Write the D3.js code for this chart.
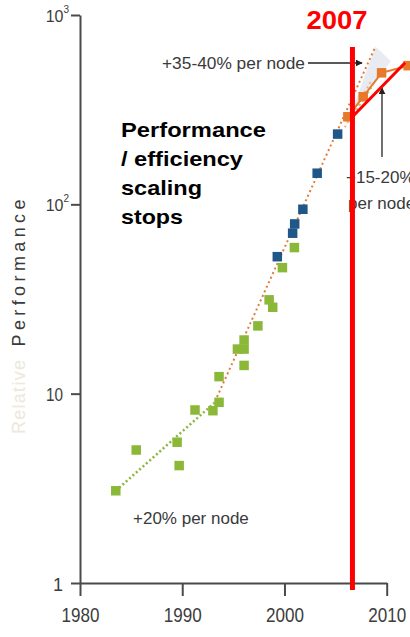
<!DOCTYPE html>
<meta charset="utf-8">
<style>
  body { margin: 0; background: #fff; }
  text { font-family: 'Liberation Sans', Arial, sans-serif; }
</style>
<script src="https://cdn.jsdelivr.net/npm/d3@7"></script>
<body>
<div id="chart"></div>
<script>
// values (year, relative performance)
const greenYears = [1983.5, 1985.5, 1989.5, 1989.7, 1991.25, 1993.0, 1993.6, 1993.6, 1995.4, 1996.05, 1996.05, 1996.05, 1997.4, 1998.5, 1998.85, 1999.8, 2000.97];
const greenVals  = [3.07, 5.04, 5.54, 4.17, 8.2, 8.13, 9.0, 12.3, 17.2, 19.2, 17.2, 14.1, 22.8, 31.3, 28.6, 46.3, 59.1];
const blueYears  = [1999.3, 2000.8, 2001.0, 2001.8, 2003.2, 2005.2];
const blueVals   = [52.9, 70.4, 78.8, 94.2, 146, 235];
const orangeYears = [2006.2, 2007.7, 2009.5, 2012.1];
const orangeVals  = [290, 370, 495, 540];

// trend lines
const greenTrend  = [[1983.5, 3.07], [1993.4, 9.2]];
const greenTrend2 = [[2006.5, 285], [2008.7, 430]];
const orangeTrend = [[1993.4, 9.6], [2008.9, 681]];
const orangeTrend2 = [[2005.9, 255], [2008.5, 450]];
const shade = [[2006.4, 290], [2008.9, 681], [2010.4, 570], [2009.5, 495], [2007.7, 370]];

// the 2007 marker
const markYear = 2006.65;
const markLine = [[2006.65, 290], [2011.8, 560]];

const xTicks = [1980, 1990, 2000, 2010];
const yTicks = [1, 10, 100, 1000];

const width = 410, height = 637;

const svg = d3.select("#chart").append("svg")
  .attr("width", width)
  .attr("height", height);

const x = d3.scaleLinear().domain([1980, 2010]).range([80, 386.7]);
const y = d3.scaleLog().domain([1, 1000]).range([583, 15]);

const line = d3.line().x(d => x(d[0])).y(d => y(d[1]));

// shaded gap between trend and real
svg.append("path")
  .attr("d", line(shade) + "Z")
  .attr("fill", "#e9ebf2");

svg.append("path").attr("d", line(orangeTrend2))
  .attr("fill", "none").attr("stroke", "#efb488").attr("stroke-width", 2).attr("stroke-dasharray", "2,3");
svg.append("path").attr("d", line(orangeTrend))
  .attr("fill", "none").attr("stroke", "#e07b3a").attr("stroke-width", 2).attr("stroke-dasharray", "2,3");
svg.append("path").attr("d", line(greenTrend))
  .attr("fill", "none").attr("stroke", "#8bb53a").attr("stroke-width", 2.5).attr("stroke-dasharray", "2,2.5");
svg.append("path").attr("d", line(greenTrend2))
  .attr("fill", "none").attr("stroke", "#a9cc6a").attr("stroke-width", 2).attr("stroke-dasharray", "2,3");

// orange measured line
svg.append("path").attr("d", line(orangeYears.map((d, i) => [d, orangeVals[i]])))
  .attr("fill", "none").attr("stroke", "#e8782a").attr("stroke-width", 2);

// axes
const axisColor = "#4a4a4a";
const yAxis = svg.append("g")
  .attr("transform", "translate(80,0)")
  .call(d3.axisLeft(y).tickValues(yTicks).tickSize(9).tickPadding(8).tickSizeOuter(0).tickFormat(""));
const xAxis = svg.append("g")
  .attr("transform", "translate(0,583)")
  .call(d3.axisBottom(x).tickValues(xTicks).tickSize(13).tickPadding(12).tickSizeOuter(0).tickFormat(d3.format("d")));

[xAxis, yAxis].forEach(a => {
  a.select(".domain").attr("stroke", axisColor).attr("stroke-width", 2);
  a.selectAll(".tick line").attr("stroke", axisColor).attr("stroke-width", 2);
});

xAxis.selectAll(".tick text")
  .attr("font-size", 20)
  .attr("fill", "#3d3d3d")
  .attr("textLength", 38)
  .attr("lengthAdjust", "spacingAndGlyphs");

yAxis.selectAll(".tick text")
  .attr("font-size", 18)
  .attr("fill", "#3d3d3d")
  .attr("dy", "0.4em")
  .each(function (d) {
    const t = d3.select(this);
    if (d < 100) {
      t.text(d);
      if (d === 10) t.attr("textLength", 17).attr("lengthAdjust", "spacingAndGlyphs");
    } else {
      t.attr("x", -11).attr("font-size", 16);
      t.append("tspan").text("10");
      t.append("tspan").attr("font-size", 10).attr("dy", "-0.9em").text(Math.round(Math.log10(d)));
    }
  });

// y axis title
svg.append("text")
  .attr("transform", "translate(25,273) rotate(-90)")
  .attr("text-anchor", "middle")
  .attr("font-family", "'DejaVu Sans', sans-serif")
  .attr("font-size", 18)
  .attr("fill", "#3a3a3a")
  .attr("textLength", 147)
  .attr("lengthAdjust", "spacing")
  .text("Performance");
svg.append("text")
  .attr("transform", "translate(25,397) rotate(-90)")
  .attr("text-anchor", "middle")
  .attr("font-family", "'DejaVu Sans', sans-serif")
  .attr("font-size", 18)
  .attr("fill", "#ece8da")
  .attr("textLength", 74)
  .attr("lengthAdjust", "spacing")
  .text("Relative");

// squares
const sq = 9.5;
function squares(years, vals, color) {
  svg.append("g").selectAll("rect")
    .data(years.map((d, i) => [d, vals[i]]))
    .join("rect")
    .attr("x", d => x(d[0]) - sq / 2)
    .attr("y", d => y(d[1]) - sq / 2)
    .attr("width", sq)
    .attr("height", sq)
    .attr("fill", color);
}
squares(greenYears, greenVals, "#8cb83a");
squares(blueYears, blueVals, "#1f5788");
squares(orangeYears, orangeVals, "#e8782a");

// annotations
const note = svg.append("g").attr("fill", "#3a3a3a").attr("font-size", 17);
note.append("text").attr("x", 162).attr("y", 69).attr("textLength", 143).attr("lengthAdjust", "spacingAndGlyphs").text("+35-40% per node");
note.append("text").attr("x", 133).attr("y", 524).text("+20% per node");
note.append("text").attr("x", 346).attr("y", 183).text("+15-20%");
note.append("text").attr("x", 348).attr("y", 209).text("per node");

svg.append("defs").append("marker")
  .attr("id", "arr")
  .attr("viewBox", "0 0 10 10")
  .attr("refX", 9).attr("refY", 5)
  .attr("markerWidth", 7).attr("markerHeight", 7)
  .attr("markerUnits", "userSpaceOnUse")
  .attr("orient", "auto")
  .append("path").attr("d", "M0,0L10,5L0,10Z").attr("fill", "#222");

svg.append("line").attr("x1", 308).attr("y1", 63).attr("x2", 362).attr("y2", 63)
  .attr("stroke", "#222").attr("stroke-width", 1.3).attr("marker-end", "url(#arr)");
svg.append("line").attr("x1", 382).attr("y1", 157).attr("x2", 382).attr("y2", 88)
  .attr("stroke", "#222").attr("stroke-width", 1.3).attr("marker-end", "url(#arr)");

// bold message
const msg = ["Performance", "/ efficiency", "scaling", "stops"];
const msgW = [145, 122, 81, 62];
svg.append("g").selectAll("text")
  .data(msg)
  .join("text")
  .attr("x", 121)
  .attr("y", (d, i) => 136.5 + i * 29)
  .attr("font-size", 21)
  .attr("font-weight", "bold")
  .attr("fill", "#000")
  .attr("textLength", (d, i) => msgW[i])
  .attr("lengthAdjust", "spacingAndGlyphs")
  .text(d => d);

// red 2007 marker
svg.append("line")
  .attr("x1", x(markYear)).attr("x2", x(markYear))
  .attr("y1", 47).attr("y2", 590)
  .attr("stroke", "#ff0000").attr("stroke-width", 5);
svg.append("path").attr("d", line(markLine))
  .attr("fill", "none").attr("stroke", "#ff0000").attr("stroke-width", 3);
svg.append("text")
  .attr("x", x(markYear) - 46).attr("y", 29)
  .attr("font-size", 25)
  .attr("font-weight", "bold")
  .attr("fill", "#ff0000")
  .attr("textLength", 61)
  .attr("lengthAdjust", "spacingAndGlyphs")
  .text("2007");
</script>
</body>
